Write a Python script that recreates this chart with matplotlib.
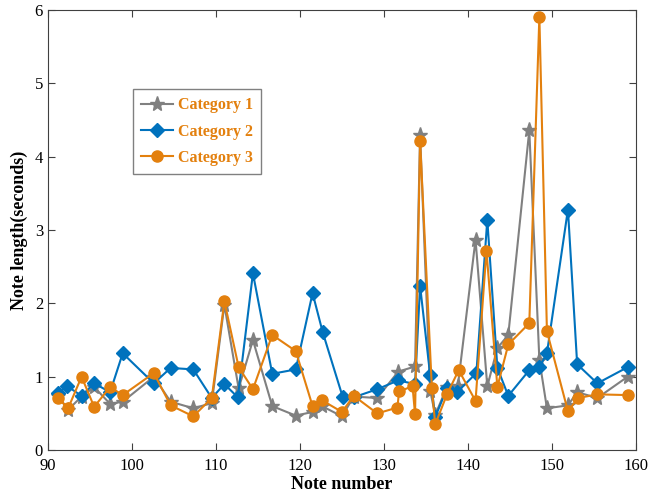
import numpy as np
import matplotlib
matplotlib.use('Agg')
import matplotlib.pyplot as plt

# note numbers and lengths
x1 = [91.2, 92.4, 94.0, 95.5, 97.4, 98.9, 102.6, 104.6, 107.3, 109.5, 111.0, 112.7,
      114.4, 116.7, 119.5, 121.5, 122.6, 125.0, 126.4, 129.2, 131.7, 133.7, 134.3,
      135.5, 136.1, 137.5, 138.8, 140.9, 142.3, 143.5, 144.8, 147.3, 148.5, 149.4,
      151.9, 153.0, 155.4, 159.0]
y1 = [0.74, 0.55, 0.73, 0.86, 0.63, 0.66, 1.0, 0.66, 0.57, 0.64, 1.98, 0.84,
      1.50, 0.60, 0.47, 0.52, 0.60, 0.46, 0.73, 0.71, 1.07, 1.14, 4.30,
      0.81, 0.48, 0.86, 0.88, 2.87, 0.87, 1.39, 1.57, 4.36, 1.23, 0.57,
      0.61, 0.79, 0.71, 1.00]

x2 = [91.2, 92.3, 94.0, 95.5, 97.4, 98.9, 102.6, 104.6, 107.3, 109.5, 111.0, 112.6,
      114.4, 116.7, 119.5, 121.5, 122.7, 125.1, 126.4, 129.2, 131.7, 133.7, 134.3,
      135.5, 136.1, 137.5, 138.7, 141.0, 142.3, 143.5, 144.8, 147.3, 148.5, 149.4,
      151.9, 153.0, 155.4, 159.0]
y2 = [0.78, 0.87, 0.74, 0.91, 0.79, 1.32, 0.91, 1.12, 1.10, 0.71, 0.90, 0.72,
      2.41, 1.04, 1.10, 2.14, 1.61, 0.72, 0.72, 0.83, 0.95, 0.90, 2.24,
      1.02, 0.45, 0.84, 0.79, 1.05, 3.14, 1.12, 0.74, 1.09, 1.13, 1.32,
      3.28, 1.17, 0.91, 1.13]

x3 = [91.2, 92.4, 94.0, 95.5, 97.4, 98.9, 102.6, 104.6, 107.3, 109.5, 111.0, 112.7,
      114.4, 116.7, 119.5, 121.5, 122.6, 125.0, 126.4, 129.2, 131.6, 131.8, 133.4,
      133.7, 134.3, 135.7, 136.1, 137.5, 138.9, 140.9, 142.2, 143.5, 144.8, 147.3,
      148.5, 149.4, 151.9, 153.1, 155.4, 159.0]
y3 = [0.71, 0.57, 1.00, 0.59, 0.86, 0.75, 1.05, 0.61, 0.46, 0.71, 2.03, 1.13,
      0.83, 1.57, 1.35, 0.60, 0.68, 0.52, 0.74, 0.50, 0.58, 0.80, 0.87,
      0.49, 4.22, 0.85, 0.35, 0.76, 1.09, 0.67, 2.72, 0.86, 1.44, 1.73,
      5.91, 1.62, 0.53, 0.71, 0.76, 0.75]

labels = ['Category 1', 'Category 2', 'Category 3']

grey = '#808080'
blue = '#0072BD'
orange = '#E3800E'

plt.rcParams['font.family'] = ['Liberation Serif', 'DejaVu Serif']

fig = plt.figure(figsize=(6.57, 4.99), dpi=100)
ax = fig.add_axes([0.073, 0.098, 0.895, 0.882])

ax.plot(x1, y1, '-*', color=grey, lw=1.5, ms=11, label=labels[0])
ax.plot(x2, y2, '-D', color=blue, lw=1.5, ms=7, label=labels[1])
ax.plot(x3, y3, '-o', color=orange, lw=1.5, ms=8, label=labels[2])

ax.set_xlim(90, 160)
ax.set_ylim(0, 6)
ax.set_xticks(np.arange(90, 161, 10))
ax.set_yticks(np.arange(0, 7, 1))
ax.tick_params(direction='in', top=True, right=True, labelsize=12, length=5,
               color='#404040')
ax.tick_params(axis='x', pad=6)
for s in ax.spines.values():
    s.set_color('#404040')
    s.set_linewidth(0.8)

ax.set_xlabel('Note number', fontsize=13, fontweight='bold', labelpad=1)
ax.set_ylabel('Note length(seconds)', fontsize=13, fontweight='bold', labelpad=5)

leg = ax.legend(loc='upper left', bbox_to_anchor=(0.145, 0.82), fancybox=False,
                edgecolor='#606060', fontsize=11.5, handlelength=2.0,
                handletextpad=0.3, borderaxespad=0, labelspacing=0.65,
                borderpad=0.5)
leg.get_frame().set_linewidth(1.0)
for t in leg.get_texts():
    t.set_color(orange)
    t.set_fontweight('bold')

fig.savefig('out.png', dpi=100)
